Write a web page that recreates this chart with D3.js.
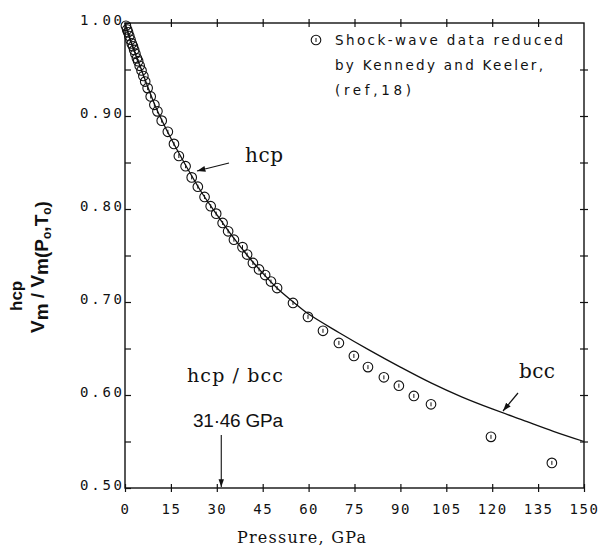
<!DOCTYPE html>
<html><head><meta charset="utf-8">
<script src="https://cdn.jsdelivr.net/npm/d3@7"></script>
<style>body{margin:0;background:#fff}svg{display:block}</style>
</head><body>
<svg id="c" width="605" height="547"></svg>
<script>
// ---- data ----
const xTicks = [0, 15, 30, 45, 60, 75, 90, 105, 120, 135, 150];
const yTicksMajor = [0.5, 0.6, 0.7, 0.8, 0.9, 1.0];
const yTicksMinor = [0.55, 0.65, 0.75, 0.85, 0.95];
const yTickLabels = ["0.50", "0.60", "0.70", "0.80", "0.90", "1.00"];

// shock-wave data (Kennedy & Keeler)
const dataP = [0.3, 0.7, 1.0, 1.4, 1.8, 2.2, 2.6, 3.0, 3.4, 3.9, 4.3, 4.8, 5.4, 6.0, 6.6, 7.4, 8.4, 9.6, 10.6, 12.0,
  14.0, 16.0, 17.6, 19.8, 21.8, 23.8, 26.0, 28.0, 29.8, 31.9, 33.7, 35.6, 38.4, 39.9, 41.8, 43.8, 45.8, 47.7, 49.7,
  54.9, 59.8, 64.7, 69.9, 74.8, 79.4, 84.6, 89.5, 94.4, 100.0, 119.6, 139.5];
const dataV = [0.997, 0.993, 0.990, 0.986, 0.982, 0.978, 0.975, 0.971, 0.967, 0.962, 0.959, 0.954, 0.949, 0.943, 0.937, 0.930, 0.921, 0.912, 0.905, 0.895,
  0.883, 0.870, 0.857, 0.846, 0.834, 0.824, 0.813, 0.803, 0.795, 0.785, 0.776, 0.767, 0.759, 0.751, 0.742, 0.735, 0.729, 0.722, 0.715,
  0.699, 0.684, 0.669, 0.656, 0.642, 0.630, 0.619, 0.610, 0.599, 0.590, 0.555, 0.527];

// calculated hcp / bcc curve
const curveP = [0, 2, 5, 10, 15, 20, 25, 30, 35, 40, 45, 50, 55, 60, 70, 80, 90, 100, 110, 120, 130, 140, 150];
const curveV = [1.000, 0.979, 0.953, 0.910, 0.876, 0.846, 0.818, 0.794, 0.771, 0.750, 0.731, 0.714, 0.700, 0.687,
  0.667, 0.648, 0.630, 0.613, 0.598, 0.585, 0.573, 0.561, 0.550];

const transitionP = 31.46;
const legendLines = ["Shock-wave data reduced", "by Kennedy and Keeler,", "(ref,18)"];

// ---- drawing ----
const svg = d3.select("#c");
const x = d3.scaleLinear().domain([0, 150]).range([125, 584]);
const y = d3.scaleLinear().domain([0.5, 1.0]).range([488, 23]);
const ink = "#111";
const mono = "'DejaVu Sans Mono', monospace";

svg.append("defs").append("marker")
  .attr("id", "ah").attr("viewBox", "0 0 10 10").attr("refX", 10).attr("refY", 5)
  .attr("markerWidth", 7).attr("markerHeight", 7).attr("orient", "auto-start-reverse")
  .append("path").attr("d", "M0,1.5L10,5L0,8.5z").attr("fill", ink);

// frame
svg.append("rect").attr("x", x(0)).attr("y", y(1)).attr("width", x(150) - x(0)).attr("height", y(0.5) - y(1))
  .attr("fill", "none").attr("stroke", ink).attr("stroke-width", 1.4);

// bottom axis
const gBottom = svg.append("g").attr("transform", `translate(0,${y(0.5)})`)
  .call(d3.axisBottom(x).tickValues(xTicks).tickFormat(d => d).tickSize(0));
gBottom.select(".domain").remove();
gBottom.selectAll(".tick line").attr("y1", -4).attr("y2", 4).attr("stroke", ink).attr("stroke-width", 1.2);
gBottom.selectAll(".tick text").attr("y", 26).attr("dy", 0).attr("fill", ink)
  .style("font-family", mono).style("font-size", "14px").style("letter-spacing", "1.5px");

// top axis
const gTop = svg.append("g").attr("transform", `translate(0,${y(1)})`)
  .call(d3.axisTop(x).tickValues(xTicks.slice(1, -1)).tickFormat("").tickSize(0));
gTop.select(".domain").remove();
gTop.selectAll(".tick line").attr("y1", -4).attr("y2", 4).attr("stroke", ink).attr("stroke-width", 1.2);

// left axis
const gLeft = svg.append("g").attr("transform", `translate(${x(0)},0)`)
  .call(d3.axisLeft(y).tickValues(yTicksMajor.concat(yTicksMinor)).tickFormat("").tickSize(0));
gLeft.select(".domain").remove();
gLeft.selectAll(".tick line").attr("x1", 0).attr("x2", 6).attr("stroke", ink).attr("stroke-width", 1.2);
svg.append("g").selectAll("text").data(yTicksMajor).join("text")
  .attr("x", x(0) - 3).attr("y", d => y(d) + 2).attr("text-anchor", "end")
  .attr("textLength", 42).attr("lengthAdjust", "spacing")
  .style("font-family", mono).style("font-size", "14px").attr("fill", ink)
  .text((d, i) => yTickLabels[i]);

// right axis
const gRight = svg.append("g").attr("transform", `translate(${x(150)},0)`)
  .call(d3.axisRight(y).tickValues(yTicksMajor.slice(1, -1).concat(yTicksMinor)).tickFormat("").tickSize(0));
gRight.select(".domain").remove();
gRight.selectAll(".tick line").attr("x1", -4).attr("x2", 4).attr("stroke", ink).attr("stroke-width", 1.2);

// curve
const line = d3.line().x((d, i) => x(curveP[i])).y((d, i) => y(curveV[i])).curve(d3.curveCatmullRom.alpha(0.5));
svg.append("path").datum(curveP).attr("d", line).attr("fill", "none").attr("stroke", ink).attr("stroke-width", 1.3);

// data markers
function marker(g) {
  g.append("circle").attr("r", 4.8).attr("fill", "none").attr("stroke", ink).attr("stroke-width", 1.1);
  g.append("line").attr("x1", 0).attr("x2", 0).attr("y1", -2).attr("y2", 2).attr("stroke", ink).attr("stroke-width", 1);
}
svg.append("g").selectAll("g").data(dataP).join("g")
  .attr("transform", (d, i) => `translate(${x(d)},${y(dataV[i])})`)
  .each(function () { marker(d3.select(this)); });

// legend
const lg = svg.append("g");
lg.append("g").attr("transform", "translate(316,40)").each(function () { marker(d3.select(this)); });
lg.selectAll("text").data(legendLines).join("text")
  .attr("x", 335).attr("y", (d, i) => 45 + i * 25)
  .attr("textLength", (d, i) => [228, 208, 76][i]).attr("lengthAdjust", "spacing")
  .style("font-family", "'DejaVu Sans', sans-serif").style("font-size", "13.5px").attr("fill", ink)
  .text(d => d);

// annotations
const serif = "'DejaVu Serif', 'Liberation Serif', serif";
svg.append("text").attr("x", 245).attr("y", 162).style("font-family", serif).style("font-size", "20px")
  .attr("textLength", 38).attr("lengthAdjust", "spacing").attr("fill", ink).text("hcp");
svg.append("line").attr("x1", 229).attr("y1", 163).attr("x2", 197).attr("y2", 171)
  .attr("stroke", ink).attr("stroke-width", 1.2).attr("marker-end", "url(#ah)");

svg.append("text").attr("x", 519).attr("y", 378).style("font-family", serif).style("font-size", "20px")
  .attr("textLength", 36).attr("lengthAdjust", "spacing").attr("fill", ink).text("bcc");
svg.append("line").attr("x1", 518).attr("y1", 393).attr("x2", 503).attr("y2", 411)
  .attr("stroke", ink).attr("stroke-width", 1.2).attr("marker-end", "url(#ah)");

svg.append("text").attr("x", 187).attr("y", 382).style("font-family", serif).style("font-size", "19px")
  .attr("textLength", 96).attr("lengthAdjust", "spacing").attr("fill", ink).text("hcp / bcc");

svg.append("text").attr("x", 193).attr("y", 427).style("font-family", "'Liberation Sans', Arial, sans-serif")
  .style("font-size", "19px").attr("textLength", 90).attr("lengthAdjust", "spacing").attr("fill", ink)
  .text("31·46 GPa");
svg.append("line").attr("x1", x(transitionP)).attr("x2", x(transitionP)).attr("y1", 435).attr("y2", y(0.5) - 1)
  .attr("stroke", ink).attr("stroke-width", 1.1).attr("marker-end", "url(#ah)");

// x title
svg.append("text").attr("x", 237).attr("y", 543).style("font-family", serif).style("font-size", "16px")
  .attr("textLength", 129).attr("lengthAdjust", "spacing").attr("fill", ink).text("Pressure, GPa");

// y title (rotated)
const yt = svg.append("g").attr("transform", "translate(44,335) rotate(-90)")
  .style("font-family", "'Liberation Sans', Arial, sans-serif").style("font-weight", "bold").attr("fill", ink);
const t = yt.append("text").attr("x", 2).attr("y", 0).style("font-size", "19px");
t.append("tspan").text("V");
t.append("tspan").attr("dy", 4).text("m");
t.append("tspan").attr("dy", -4).text(" / V");
t.append("tspan").attr("dy", 4).text("m(P");
t.append("tspan").attr("dy", 3).style("font-size", "12px").text("o");
t.append("tspan").attr("dy", -3).text(",T");
t.append("tspan").attr("dy", 3).style("font-size", "12px").text("o");
t.append("tspan").attr("dy", -3).text(")");
yt.append("text").attr("x", 24).attr("y", -22).style("font-size", "17px").text("hcp");
</script>
</body></html>
